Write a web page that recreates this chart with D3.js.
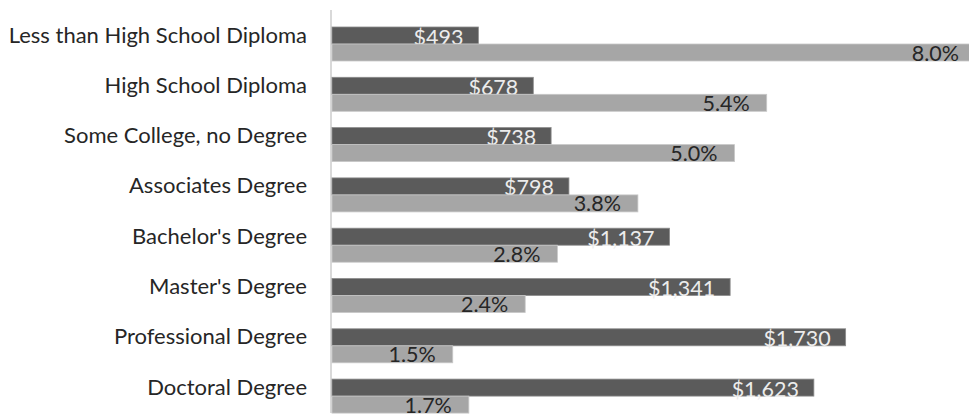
<!DOCTYPE html>
<html><head><meta charset="utf-8">
<script src="https://cdn.jsdelivr.net/npm/d3@7"></script>
<style>
html,body{margin:0;padding:0;background:#fff;}
svg{display:block;}
text{font-family:Lato,"Open Sans",sans-serif;}
</style></head>
<body><svg id="chart" width="969" height="415"></svg>
<script>
const categories = ["Less than High School Diploma","High School Diploma","Some College, no Degree","Associates Degree","Bachelor's Degree","Master's Degree","Professional Degree","Doctoral Degree"];
const earnings = [493, 678, 738, 798, 1137, 1341, 1730, 1623];
const unemployment = [8.0, 5.4, 5.0, 3.8, 2.8, 2.4, 1.5, 1.7];
const earningLabels = ["$493","$678","$738","$798","$1,137","$1,341","$1,730","$1,623"];
const unemploymentLabels = ["8.0%","5.4%","5.0%","3.8%","2.8%","2.4%","1.5%","1.7%"];

const svg = d3.select("#chart");
const x0 = 332;
const xEarn = d3.scaleLinear().domain([0, 2000]).range([x0, x0 + 593.8]);
const xUnemp = d3.scaleLinear().domain([0, 10]).range([x0, x0 + 805]);
const y = d3.scaleBand().domain(categories).range([18.85, 421.25]).paddingInner(0.324).paddingOuter(0.162);
const sub = d3.scaleBand().domain(["earn","unemp"]).range([0, y.bandwidth()]);

// axis line
svg.append("line").attr("x1",331).attr("x2",331).attr("y1",10).attr("y2",413)
  .attr("stroke","#d9d9d9").attr("stroke-width",2);

// category labels
svg.append("g").selectAll("text").data(categories).join("text")
  .attr("x",307).attr("y",d=>y(d)+sub.bandwidth()-1.5)
  .attr("text-anchor","end").attr("fill","#262626").attr("font-size",22)
  .text(d=>d);

const g = svg.append("g");
// earnings bars
g.selectAll("rect.earn").data(categories).join("rect").attr("class","earn")
  .attr("x",x0).attr("y",d=>y(d)+sub("earn"))
  .attr("width",(d,i)=>xEarn(earnings[i])-x0).attr("height",sub.bandwidth())
  .attr("fill","#5b5b5b").attr("stroke","#8c8c8c").attr("stroke-width",0.8);
g.selectAll("text.earn").data(categories).join("text").attr("class","earn")
  .attr("x",(d,i)=>xEarn(earnings[i])-15).attr("y",d=>y(d)+sub("earn")+sub.bandwidth()+0.5)
  .attr("text-anchor","end").attr("fill","#ececec").attr("font-size",21.5)
  .text((d,i)=>earningLabels[i]);
// unemployment bars
g.selectAll("rect.unemp").data(categories).join("rect").attr("class","unemp")
  .attr("x",x0).attr("y",d=>y(d)+sub("unemp"))
  .attr("width",(d,i)=>xUnemp(unemployment[i])-x0).attr("height",sub.bandwidth())
  .attr("fill","#a6a6a6").attr("stroke","#c8c8c8").attr("stroke-width",0.8);
g.selectAll("text.unemp").data(categories).join("text").attr("class","unemp")
  .attr("x",(d,i)=>xUnemp(unemployment[i])-17).attr("y",d=>y(d)+sub("unemp")+sub.bandwidth()-0.5)
  .attr("text-anchor","end").attr("fill","#262626").attr("font-size",21.5)
  .text((d,i)=>unemploymentLabels[i]);
</script></body></html>
